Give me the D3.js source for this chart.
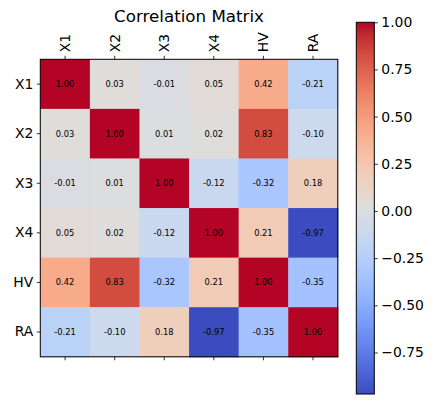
<!DOCTYPE html>
<html>
<head>
<meta charset="utf-8">
<script src="https://cdn.jsdelivr.net/npm/d3@7"></script>
<style>
  body { margin: 0; background: #fff; }
  svg { display: block; font-family: "DejaVu Sans", sans-serif; }
  .domain { display: none; }
</style>
</head>
<body>
<svg id="chart" width="436" height="404"></svg>
<script>
// variables in the matrix
var labels = ["X1", "X2", "X3", "X4", "HV", "RA"];

// correlation rows, one per variable
var rowX1 = [1.00, 0.03, -0.01, 0.05, 0.42, -0.21];
var rowX2 = [0.03, 1.00, 0.01, 0.02, 0.83, -0.10];
var rowX3 = [-0.01, 0.01, 1.00, -0.12, -0.32, 0.18];
var rowX4 = [0.05, 0.02, -0.12, 1.00, 0.21, -0.97];
var rowHV = [0.42, 0.83, -0.32, 0.21, 1.00, -0.35];
var rowRA = [-0.21, -0.10, 0.18, -0.97, -0.35, 1.00];

var colorbarTicks = [-0.75, -0.5, -0.25, 0, 0.25, 0.5, 0.75, 1.0];

// coolwarm colour stops (Moreland)
var coolwarm = [
  [59,76,192],[68,90,204],[77,104,215],[87,117,225],[98,130,234],[108,142,241],
  [119,154,247],[130,165,251],[141,176,254],[152,185,255],[163,194,255],[174,201,253],
  [184,208,249],[194,213,244],[204,217,238],[213,219,230],[221,221,221],[229,216,209],
  [236,211,197],[241,204,184],[245,196,172],[247,187,159],[247,177,147],[247,166,134],
  [244,154,123],[241,141,111],[236,127,99],[229,112,89],[222,96,77],[213,80,66],
  [203,62,56],[192,40,47],[180,4,38]
];

(function() {
  var matrix = [rowX1, rowX2, rowX3, rowX4, rowHV, rowRA];

  var cells = [];
  matrix.forEach(function(row, i) {
    row.forEach(function(v, j) {
      cells.push({ row: labels[i], col: labels[j], value: v });
    });
  });

  var vmin = d3.min(cells, function(d) { return d.value; }),
      vmax = d3.max(cells, function(d) { return d.value; });

  var cmap = d3.scaleLinear()
    .domain(coolwarm.map(function(c, i) { return i / (coolwarm.length - 1); }))
    .range(coolwarm.map(function(c) { return "rgb(" + c.join(",") + ")"; }))
    .interpolate(d3.interpolateRgb);

  var norm = d3.scaleLinear().domain([vmin, vmax]).range([0, 1]).clamp(true);
  function color(v) { return cmap(norm(v)); }

  var svg = d3.select("#chart");

  var plotLeft = 40.3, plotTop = 59.3, size = 297.5;

  var x = d3.scaleBand().domain(labels).range([plotLeft, plotLeft + size]);
  var y = d3.scaleBand().domain(labels).range([plotTop, plotTop + size]);

  svg.append("g")
    .selectAll("rect")
    .data(cells)
    .enter().append("rect")
      .attr("x", function(d) { return x(d.col); })
      .attr("y", function(d) { return y(d.row); })
      .attr("width", x.bandwidth() + 0.5)
      .attr("height", y.bandwidth() + 0.5)
      .attr("fill", function(d) { return color(d.value); });

  svg.append("g")
    .selectAll("text")
    .data(cells)
    .enter().append("text")
      .attr("x", function(d) { return x(d.col) + x.bandwidth() / 2; })
      .attr("y", function(d) { return y(d.row) + y.bandwidth() / 2; })
      .attr("dy", "0.35em")
      .attr("text-anchor", "middle")
      .attr("font-size", "8.3px")
      .attr("fill", "#000")
      .text(function(d) { return d.value.toFixed(2); });

  svg.append("rect")
    .attr("x", plotLeft).attr("y", plotTop)
    .attr("width", size).attr("height", size)
    .attr("fill", "none").attr("stroke", "#000").attr("stroke-width", 1);

  // axes
  var topAxis = svg.append("g")
    .attr("transform", "translate(0," + plotTop + ")")
    .call(d3.axisTop(x).tickSize(3.5).tickPadding(3.5));
  topAxis.selectAll("text")
    .attr("font-size", "13.9px")
    .attr("font-family", "DejaVu Sans")
    .attr("fill", "#000")
    .attr("transform", "rotate(-90)")
    .attr("x", 7)
    .attr("y", 0)
    .attr("dy", "0.35em")
    .attr("text-anchor", "start");

  svg.append("g")
    .attr("transform", "translate(0," + (plotTop + size) + ")")
    .call(d3.axisBottom(x).tickSize(3.5).tickFormat(""));

  var leftAxis = svg.append("g")
    .attr("transform", "translate(" + plotLeft + ",0)")
    .call(d3.axisLeft(y).tickSize(3.5).tickPadding(3.5));
  leftAxis.selectAll("text")
    .attr("font-size", "13.9px")
    .attr("font-family", "DejaVu Sans")
    .attr("fill", "#000");

  svg.selectAll(".tick line").attr("stroke", "#000").attr("stroke-width", 0.8);

  svg.append("text")
    .attr("x", plotLeft + size / 2)
    .attr("y", 22)
    .attr("text-anchor", "middle")
    .attr("font-size", "16.7px")
    .attr("fill", "#000")
    .text("Correlation Matrix");

  // colorbar
  var cbX = 356.3, cbW = 18, cbTop = 22.3, cbBottom = 394;
  var cy = d3.scaleLinear().domain([vmin, vmax]).range([cbBottom, cbTop]);

  var grad = svg.append("defs").append("linearGradient")
    .attr("id", "cbgrad")
    .attr("x1", 0).attr("y1", 1).attr("x2", 0).attr("y2", 0);
  grad.selectAll("stop")
    .data(coolwarm)
    .enter().append("stop")
      .attr("offset", function(c, i) { return i / (coolwarm.length - 1); })
      .attr("stop-color", function(c) { return "rgb(" + c.join(",") + ")"; });

  svg.append("rect")
    .attr("x", cbX).attr("y", cbTop)
    .attr("width", cbW).attr("height", cbBottom - cbTop)
    .attr("fill", "url(#cbgrad)")
    .attr("stroke", "#000").attr("stroke-width", 1);

  var cbAxis = svg.append("g")
    .attr("transform", "translate(" + (cbX + cbW) + ",0)")
    .call(d3.axisRight(cy)
      .tickValues(colorbarTicks)
      .tickSize(3.5).tickPadding(3.5)
      .tickFormat(function(d) { return d3.format(".2f")(d).replace("-", "\u2212"); }));
  cbAxis.selectAll("text")
    .attr("font-size", "13.9px")
    .attr("font-family", "DejaVu Sans")
    .attr("fill", "#000");
  cbAxis.selectAll(".tick line").attr("stroke", "#000").attr("stroke-width", 0.8);
})();
</script>
</body>
</html>
